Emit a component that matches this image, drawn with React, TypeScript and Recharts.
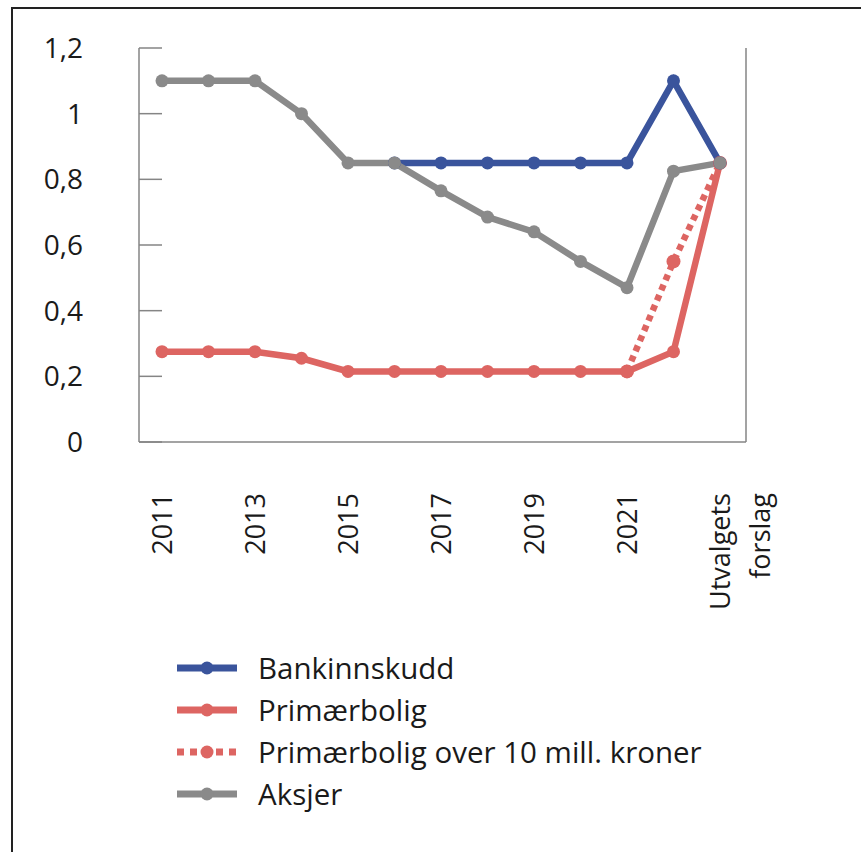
import { LineChart, Line, XAxis, YAxis } from "recharts";

const years = [
  "2011", "2012", "2013", "2014", "2015", "2016", "2017",
  "2018", "2019", "2020", "2021", "2022", "Utvalgets forslag",
];
const bankinnskudd = [null, null, null, null, null, 0.85, 0.85, 0.85, 0.85, 0.85, 0.85, 1.1, 0.85];
const primaerbolig = [0.275, 0.275, 0.275, 0.255, 0.215, 0.215, 0.215, 0.215, 0.215, 0.215, 0.215, 0.275, 0.85];
const primaerboligOver10 = [null, null, null, null, null, null, null, null, null, null, 0.215, 0.55, 0.85];
const aksjer = [1.1, 1.1, 1.1, 1.0, 0.85, 0.85, 0.765, 0.685, 0.64, 0.55, 0.47, 0.825, 0.85];
const yTicks = [0, 0.2, 0.4, 0.6, 0.8, 1, 1.2];

const BLUE = "#3a549c";
const RED = "#dd6562";
const GRAY = "#8a8a8a";
const AXIS = "#858585";
const TEXT = "#1a1a1a";
const FONT = "'Open Sans', sans-serif";

const data = years.map((year, i) => ({
  year,
  bankinnskudd: bankinnskudd[i],
  primaerbolig: primaerbolig[i],
  primaerboligOver10: primaerboligOver10[i],
  aksjer: aksjer[i],
}));

// order of drawing, last one on top
const series = [
  { key: "primaerboligOver10", name: "Primærbolig over 10 mill. kroner", color: RED, dashed: true },
  { key: "primaerbolig", name: "Primærbolig", color: RED, dashed: false },
  { key: "bankinnskudd", name: "Bankinnskudd", color: BLUE, dashed: false },
  { key: "aksjer", name: "Aksjer", color: GRAY, dashed: false },
];
const legendOrder = ["bankinnskudd", "primaerbolig", "primaerboligOver10", "aksjer"];

const fmt = (v: number) => String(v).replace(".", ",");

function XTick({ x, y, payload }: any) {
  const lines = String(payload.value).split(" ");
  return (
    <g transform={`translate(${x},${y + 51}) rotate(-90)`}>
      {lines.map((l, i) => (
        <text
          key={i}
          x={0}
          y={i * 40}
          dy="0.36em"
          textAnchor="end"
          fontSize={27}
          fontFamily={FONT}
          fill={TEXT}
        >
          {l}
        </text>
      ))}
    </g>
  );
}

export default function App() {
  return (
    <div
      style={{
        position: "absolute",
        left: 0,
        top: 0,
        width: 861,
        height: 852,
        overflow: "hidden",
        background: "#fff",
        fontFamily: FONT,
      }}
    >
      <div
        style={{
          position: "absolute",
          left: 11,
          top: 7,
          width: 900,
          height: 900,
          borderLeft: "2px solid #222",
          borderTop: "2px solid #222",
        }}
      />
      <div style={{ position: "absolute", left: 0, top: 0 }}>
        <LineChart
          width={861}
          height={852}
          data={data}
          margin={{ top: 48, right: 0, bottom: 260, left: 0 }}
        >
          <XAxis
            dataKey="year"
            interval={1}
            tickLine={false}
            tickSize={0}
            tickMargin={0}
            height={150}
            padding={{ left: 23, right: 26 }}
            axisLine={{ stroke: AXIS, strokeWidth: 1.5 }}
            tick={<XTick />}
          />
          <YAxis
            yAxisId="left"
            orientation="left"
            width={139}
            domain={[0, 1.2]}
            ticks={yTicks}
            tickFormatter={fmt}
            tickSize={-23}
            tickMargin={79}
            axisLine={{ stroke: AXIS, strokeWidth: 1.5 }}
            tickLine={{ stroke: AXIS, strokeWidth: 1.5 }}
            tick={{ fontSize: 28, fill: TEXT, fontFamily: FONT }}
          />
          <YAxis
            yAxisId="right"
            orientation="right"
            width={115}
            domain={[0, 1.2]}
            ticks={yTicks}
            tickFormatter={fmt}
            tickSize={-23}
            tickMargin={79}
            axisLine={{ stroke: AXIS, strokeWidth: 1.5 }}
            tickLine={{ stroke: AXIS, strokeWidth: 1.5 }}
            tick={{ fontSize: 28, fill: TEXT, fontFamily: FONT }}
          />
          {series.map((s) => (
            <Line
              key={s.key}
              yAxisId="left"
              dataKey={s.key}
              name={s.name}
              stroke={s.color}
              strokeWidth={s.dashed ? 6.5 : 6.5}
              strokeDasharray={s.dashed ? "6 5" : undefined}
              dot={{ r: s.dashed ? 7 : 6.5, fill: s.color, stroke: s.color, strokeWidth: 0, strokeDasharray: "" }}
              activeDot={false}
              connectNulls={false}
              isAnimationActive={false}
            />
          ))}
        </LineChart>
      </div>
      <div style={{ position: "absolute", left: 177, top: 647 }}>
        {legendOrder.map((k) => {
          const s = series.find((x) => x.key === k)!;
          return (
            <div key={k} style={{ display: "flex", alignItems: "center", height: 42 }}>
              <svg width={60} height={16} style={{ marginRight: 21 }}>
                <line
                  x1={0}
                  y1={8}
                  x2={60}
                  y2={8}
                  stroke={s.color}
                  strokeWidth={7}
                  strokeDasharray={s.dashed ? "7 6" : undefined}
                />
                <circle cx={30} cy={8} r={6.5} fill={s.color} />
              </svg>
              <span style={{ fontSize: 29.5, color: TEXT, lineHeight: "42px" }}>{s.name}</span>
            </div>
          );
        })}
      </div>
    </div>
  );
}
